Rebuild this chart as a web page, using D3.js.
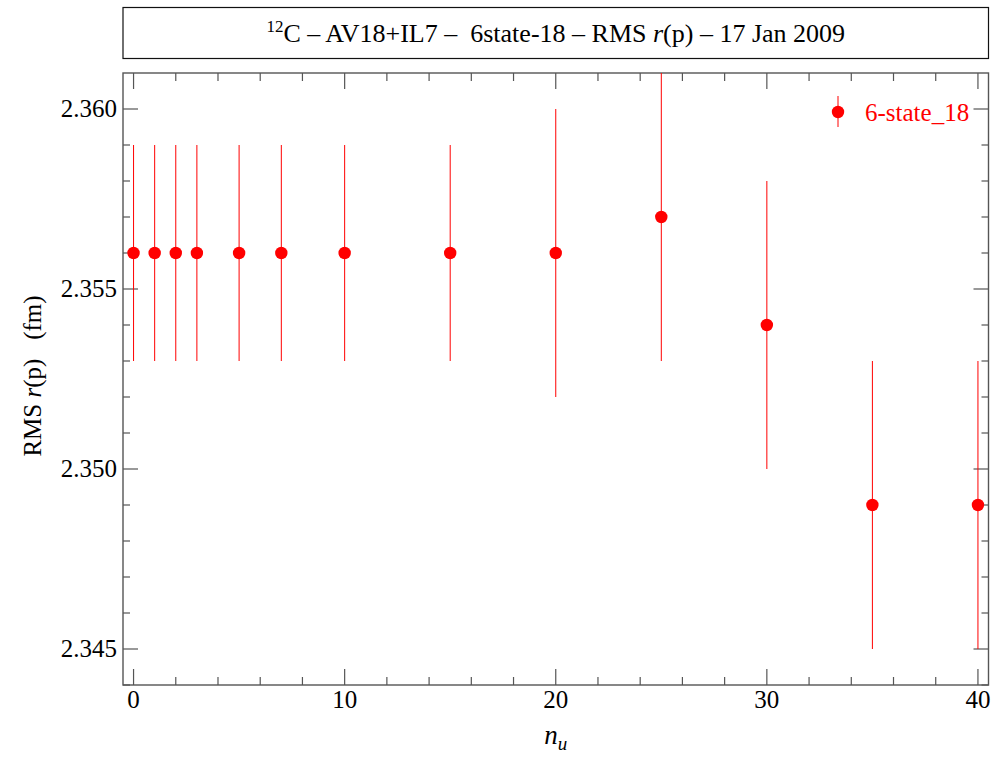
<!DOCTYPE html>
<html>
<head>
<meta charset="utf-8">
<script src="https://cdn.jsdelivr.net/npm/d3@7"></script>
<style>
  html, body { margin: 0; padding: 0; background: #fff; }
  svg { display: block; font-family: "Liberation Serif", "Times New Roman", serif; }
</style>
</head>
<body>
<svg id="chart" width="1000" height="757"></svg>
<script>
  // data
  const nu = [0, 1, 2, 3, 5, 7, 10, 15, 20, 25, 30, 35, 40];
  const rms = [2.356, 2.356, 2.356, 2.356, 2.356, 2.356, 2.356, 2.356, 2.356, 2.357, 2.354, 2.349, 2.349];
  const err = [0.003, 0.003, 0.003, 0.003, 0.003, 0.003, 0.003, 0.003, 0.004, 0.004, 0.004, 0.004, 0.004];
  const xMajor = [0, 10, 20, 30, 40];
  const yMajor = [2.345, 2.350, 2.355, 2.360];
  const seriesName = "6-state_18";

  const svg = d3.select("#chart");
  const pL = 123, pR = 988.5, pT = 73, pB = 685;
  const red = "#ff0000";
  const axisColor = "#555";

  const x = d3.scaleLinear().domain([-0.5, 40.5]).range([pL, pR]);
  const y = d3.scaleLinear().domain([2.344, 2.361]).range([pB, pT]);

  // title box
  svg.append("rect")
    .attr("x", pL).attr("y", 7.5)
    .attr("width", pR - pL).attr("height", 51)
    .attr("fill", "none").attr("stroke", "#111").attr("stroke-width", 1.2);

  const title = svg.append("text")
    .attr("x", (pL + pR) / 2).attr("y", 42)
    .attr("text-anchor", "middle")
    .attr("font-size", 26)
    .attr("xml:space", "preserve");
  title.append("tspan").attr("font-size", 17).attr("dy", -10).text("12");
  title.append("tspan").attr("dy", 10).text("C \u2013 AV18+IL7 \u2013  6state-18 \u2013 RMS ");
  title.append("tspan").attr("font-style", "italic").text("r");
  title.append("tspan").text("(p) \u2013 17 Jan 2009");

  svg.append("clipPath").attr("id", "plotclip")
    .append("rect").attr("x", pL).attr("y", pT)
    .attr("width", pR - pL).attr("height", pB - pT);

  // ticks
  const ticks = svg.append("g").attr("stroke", axisColor).attr("stroke-width", 1.2);
  const xMinor = d3.range(0, 41, 2).filter((v) => !xMajor.includes(v));
  const yMinor = d3.range(2344, 2361).map((v) => v / 1000).filter((v) => !yMajor.some((m) => Math.abs(m - v) < 1e-9));

  xMajor.forEach((v) => {
    ticks.append("line").attr("x1", x(v)).attr("x2", x(v)).attr("y1", pB).attr("y2", pB - 16);
    ticks.append("line").attr("x1", x(v)).attr("x2", x(v)).attr("y1", pT).attr("y2", pT + 16);
  });
  xMinor.forEach((v) => {
    ticks.append("line").attr("x1", x(v)).attr("x2", x(v)).attr("y1", pB).attr("y2", pB - 8);
    ticks.append("line").attr("x1", x(v)).attr("x2", x(v)).attr("y1", pT).attr("y2", pT + 8);
  });
  yMajor.forEach((v) => {
    ticks.append("line").attr("x1", pL).attr("x2", pL + 15).attr("y1", y(v)).attr("y2", y(v));
    ticks.append("line").attr("x1", pR).attr("x2", pR - 15).attr("y1", y(v)).attr("y2", y(v));
  });
  yMinor.forEach((v) => {
    ticks.append("line").attr("x1", pL).attr("x2", pL + 7).attr("y1", y(v)).attr("y2", y(v));
    ticks.append("line").attr("x1", pR).attr("x2", pR - 7).attr("y1", y(v)).attr("y2", y(v));
  });

  // frame
  svg.append("rect")
    .attr("x", pL).attr("y", pT)
    .attr("width", pR - pL).attr("height", pB - pT)
    .attr("fill", "none").attr("stroke", axisColor).attr("stroke-width", 1.4);

  // tick labels
  svg.append("g").selectAll("text").data(xMajor).join("text")
    .attr("x", (d) => x(d)).attr("y", pB + 23)
    .attr("text-anchor", "middle").attr("font-size", 25)
    .text((d) => d);
  svg.append("g").selectAll("text").data(yMajor).join("text")
    .attr("x", pL - 6).attr("y", (d) => y(d) + 8)
    .attr("text-anchor", "end").attr("font-size", 25)
    .text((d) => d3.format(".3f")(d));

  // axis titles
  const xl = svg.append("text").attr("x", (pL + pR) / 2).attr("y", 744)
    .attr("text-anchor", "middle").attr("font-size", 27).attr("font-style", "italic");
  xl.append("tspan").text("n");
  xl.append("tspan").attr("font-size", 19).attr("dy", 6).text("u");

  const yl = svg.append("text")
    .attr("transform", `translate(41,376) rotate(-90)`)
    .attr("text-anchor", "middle").attr("font-size", 25)
    .attr("xml:space", "preserve");
  yl.append("tspan").text("RMS ");
  yl.append("tspan").attr("font-style", "italic").text("r");
  yl.append("tspan").text("(p)   (fm)");

  // data
  const pts = nu.map((v, i) => ({ x: v, y: rms[i], e: err[i] }));
  const plot = svg.append("g").attr("clip-path", "url(#plotclip)");
  plot.selectAll("line.err").data(pts).join("line")
    .attr("class", "err")
    .attr("x1", (d) => x(d.x)).attr("x2", (d) => x(d.x))
    .attr("y1", (d) => y(d.y - d.e)).attr("y2", (d) => y(d.y + d.e))
    .attr("stroke", red).attr("stroke-width", 1);
  plot.selectAll("circle").data(pts).join("circle")
    .attr("cx", (d) => x(d.x)).attr("cy", (d) => y(d.y))
    .attr("r", 6.2).attr("fill", red);

  // legend
  const lg = svg.append("g").attr("transform", "translate(838,112)");
  lg.append("line").attr("y1", -16).attr("y2", 15).attr("stroke", red).attr("stroke-width", 1);
  lg.append("circle").attr("r", 6.2).attr("fill", red);
  lg.append("text").attr("x", 27).attr("y", 9).attr("font-size", 25).attr("fill", red).text(seriesName);
</script>
</body>
</html>
